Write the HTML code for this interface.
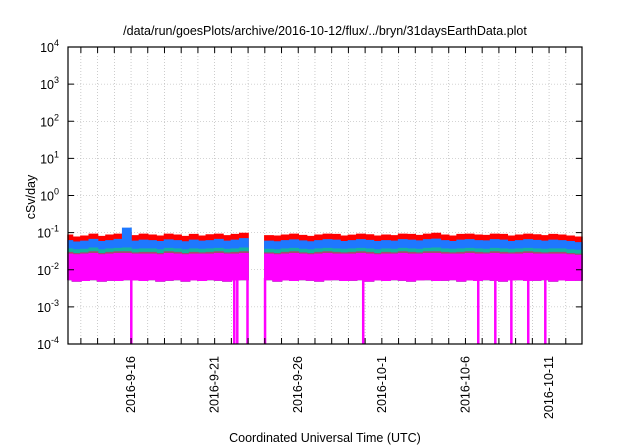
<!DOCTYPE html>
<html><head><meta charset="utf-8"><style>
html,body{margin:0;padding:0;background:#fff}
svg{display:block;font-family:"Liberation Sans",sans-serif}
</style></head><body>
<svg id="chart" width="640" height="448" viewBox="0 0 640 448">
<text x="325" y="35" font-size="12.5" text-anchor="middle">/data/run/goesPlots/archive/2016-10-12/flux/../bryn/31daysEarthData.plot</text>
<g id="grid"></g>
<g id="series"></g>
<rect x="68" y="47" width="514" height="297" fill="none" stroke="#000" stroke-width="1.2"/>
<g id="axes"></g>
<text transform="translate(35,197) rotate(-90)" font-size="12.5" text-anchor="middle">cSv/day</text>
<text x="325" y="442" font-size="12.5" text-anchor="middle">Coordinated Universal Time (UTC)</text>
</svg>
<script>
const times=[];for(let i=0;i<62;i++)times.push(0.25+i*0.5);
const red=[0.085,0.075,0.08,0.09,0.078,0.085,0.09,0.1,0.082,0.09,0.085,0.08,0.09,0.085,0.078,0.088,0.08,0.086,0.09,0.082,0.088,0.095,0.084,0.09,0.082,0.08,0.085,0.09,0.083,0.078,0.085,0.09,0.088,0.08,0.084,0.09,0.086,0.08,0.085,0.082,0.09,0.088,0.083,0.09,0.095,0.085,0.08,0.088,0.09,0.085,0.083,0.09,0.088,0.08,0.085,0.09,0.086,0.082,0.088,0.085,0.08,0.075];
const blue=[0.06,0.055,0.058,0.065,0.057,0.06,0.065,0.13,0.058,0.062,0.06,0.057,0.063,0.06,0.056,0.062,0.058,0.06,0.065,0.058,0.062,0.068,0.06,0.064,0.058,0.056,0.06,0.063,0.059,0.056,0.06,0.064,0.062,0.057,0.06,0.064,0.061,0.057,0.06,0.058,0.064,0.062,0.059,0.064,0.066,0.06,0.057,0.062,0.064,0.06,0.059,0.064,0.062,0.057,0.06,0.064,0.061,0.058,0.062,0.06,0.057,0.053];
const green=[0.036,0.034,0.035,0.038,0.034,0.036,0.037,0.038,0.035,0.036,0.036,0.034,0.037,0.036,0.034,0.036,0.035,0.036,0.037,0.035,0.036,0.038,0.036,0.037,0.035,0.034,0.036,0.037,0.035,0.034,0.036,0.037,0.036,0.035,0.036,0.037,0.036,0.034,0.036,0.035,0.037,0.036,0.035,0.037,0.038,0.036,0.035,0.036,0.037,0.036,0.035,0.037,0.036,0.035,0.036,0.037,0.036,0.035,0.036,0.036,0.034,0.033];
const brown=[0.029,0.027,0.028,0.03,0.027,0.029,0.03,0.03,0.028,0.029,0.029,0.027,0.03,0.029,0.027,0.029,0.028,0.029,0.03,0.028,0.029,0.03,0.029,0.03,0.028,0.027,0.029,0.03,0.028,0.027,0.029,0.03,0.029,0.028,0.029,0.03,0.029,0.027,0.029,0.028,0.03,0.029,0.028,0.03,0.03,0.029,0.028,0.029,0.03,0.029,0.028,0.03,0.029,0.028,0.029,0.03,0.029,0.028,0.029,0.029,0.027,0.026];
const magentaHigh=[0.026,0.025,0.026,0.027,0.025,0.026,0.027,0.027,0.026,0.026,0.026,0.025,0.027,0.026,0.025,0.026,0.026,0.026,0.027,0.026,0.026,0.027,0.026,0.027,0.026,0.025,0.026,0.027,0.026,0.025,0.026,0.027,0.026,0.026,0.026,0.027,0.026,0.025,0.026,0.026,0.027,0.026,0.026,0.027,0.027,0.026,0.026,0.026,0.027,0.026,0.026,0.027,0.026,0.026,0.026,0.027,0.026,0.026,0.026,0.026,0.025,0.024];
const magentaLow=[0.0055,0.005,0.0052,0.0055,0.005,0.0053,0.0052,0.0055,0.0054,0.0052,0.0055,0.005,0.0053,0.0055,0.005,0.0054,0.0052,0.0055,0.0053,0.005,0.0054,0.0055,0.0052,0.0053,0.0055,0.005,0.0054,0.0052,0.0055,0.0053,0.005,0.0054,0.0055,0.0052,0.0053,0.0055,0.005,0.0054,0.0052,0.0055,0.0053,0.005,0.0054,0.0055,0.0052,0.0053,0.0055,0.005,0.0054,0.0052,0.0055,0.0053,0.005,0.0054,0.0055,0.0052,0.0053,0.0055,0.005,0.0054,0.0052,0.0053];
const gapStart=11.0, gapEnd=11.99;
const drops=[4.0,10.16,10.34,10.95,12.0,17.87,24.75,25.77,26.73,27.74,28.76];
const dayTicks=[];for(let d=1;d<=30;d++)dayTicks.push(d);
const dateLabels=[[4,"2016-9-16"],[9,"2016-9-21"],[14,"2016-9-26"],[19,"2016-10-1"],[24,"2016-10-6"],[29,"2016-10-11"]];
const yExps=[-4,-3,-2,-1,0,1,2,3,4];

const X0=68,X1=582,Y0=344,Y1=47,D0=0.23,D1=30.97;
const xs=t=>X0+(t-D0)/(D1-D0)*(X1-X0);
const ys=v=>Y0-(Math.log10(v)+4)/8*(Y0-Y1);
const NS="http://www.w3.org/2000/svg";
function mk(tag,parent,attrs){const e=document.createElementNS(NS,tag);for(const k in attrs)e.setAttribute(k,attrs[k]);parent.appendChild(e);return e;}
const grid=document.getElementById('grid'),ser=document.getElementById('series'),ax=document.getElementById('axes');
dayTicks.forEach(d=>{const x=xs(d);
 const g=mk('line',grid,{x1:x,x2:x,y1:Y1,y2:Y0,stroke:'#aaa','stroke-width':0.6,'stroke-dasharray':'1,2'});
 
 const t1=mk('line',ax,{x1:x,x2:x,y1:Y0,y2:Y0-6,stroke:'#000'});
 
 const t2=mk('line',ax,{x1:x,x2:x,y1:Y1,y2:Y1+6,stroke:'#000'});
 });
yExps.forEach(e=>{const y=ys(Math.pow(10,e));
 if(e>-4&&e<4){const g=mk('line',grid,{x1:X0,x2:X1,y1:y,y2:y,stroke:'#aaa','stroke-width':0.6,'stroke-dasharray':'1,2'});
 }
 const t=mk('line',ax,{x1:X0,x2:X0+6,y1:y,y2:y,stroke:'#000'});
 
 const t2=mk('line',ax,{x1:X1,x2:X1-6,y1:y,y2:y,stroke:'#000'});
 
 const tx=mk('text',ax,{x:59,y:y+5,'font-size':12.5,'text-anchor':'end'});
 
 tx.textContent='10';
 const sp=mk('tspan',tx,{dy:-6,'font-size':9});sp.textContent=String(e);});
dateLabels.forEach(([d,l])=>{const x=xs(d);
 const tx=mk('text',ax,{transform:`translate(${x+4},356) rotate(-90)`,'font-size':12.5,'text-anchor':'end'});
 
 tx.textContent=l;});
function segs(){const a=[];let cur=[];times.forEach((t,i)=>{if(t>gapStart&&t<gapEnd){if(cur.length)a.push(cur);cur=[];}else cur.push(i);});if(cur.length)a.push(cur);return a;}
function band(hi,lo,color,name){segs().forEach(s=>{let p=[];
 s.forEach(i=>{const tl=Math.max(D0,times[i]-0.25),tr=Math.min(D1,times[i]+0.25);p.push([xs(tl),ys(hi[i])],[xs(tr),ys(hi[i])]);});
 for(let k=s.length-1;k>=0;k--){const i=s[k];const tl=Math.max(D0,times[i]-0.25),tr=Math.min(D1,times[i]+0.25);p.push([xs(tr),ys(lo[i])],[xs(tl),ys(lo[i])]);}
 const e=mk('polygon',ser,{points:p.map(q=>q.join(',')).join(' '),fill:color,stroke:color,'stroke-width':1.5});
 });}
band(red,magentaLow,'#ff0000','series-red');
band(blue,magentaLow,'#1e78ff','series-blue');
band(green,magentaLow,'#14b4a0','series-green');
band(brown,magentaLow,'#a0506e','series-brown');
band(magentaHigh,magentaLow,'#ff00ff','series-magenta');
drops.forEach(t=>{const x=xs(t);
 const e=mk('rect',ser,{x:x-1,y:ys(0.006),width:2.5,height:Y0-ys(0.006),fill:'#ff00ff'});
 });
</script>
</body></html>
